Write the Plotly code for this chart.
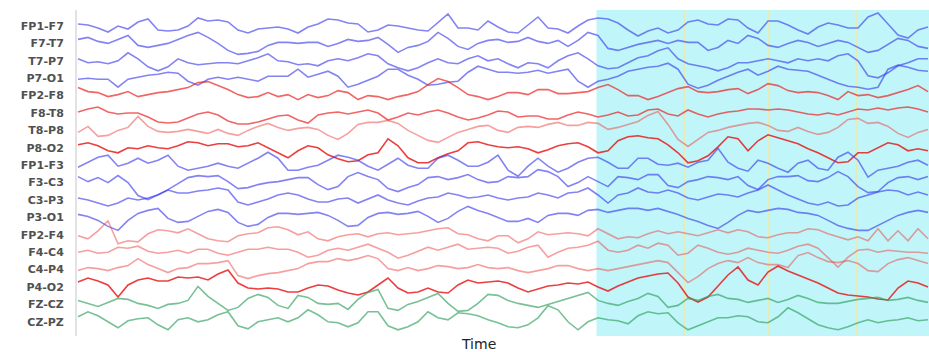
import numpy as np
import plotly.graph_objects as go

# ---------------- data (amplitudes, arbitrary units, positive = up) ----------------
channels = ["FP1-F7", "F7-T7", "T7-P7", "P7-O1",
            "FP2-F8", "F8-T8", "T8-P8", "P8-O2",
            "FP1-F3", "F3-C3", "C3-P3", "P3-O1",
            "FP2-F4", "F4-C4", "C4-P4", "P4-O2",
            "FZ-CZ", "CZ-PZ"]

fp1_f7 = [2,1,-2,-6,0,-3,4,7,-4,-5,-4,0,8,5,6,4,-4,-7,-3,-2,-1,-3,-7,-1,2,7,6,3,2,-6,
          -4,1,0,-2,-4,-5,4,12,-2,-2,-4,5,-1,-6,-7,1,9,-2,-3,-7,0,6,8,7,3,-4,-10,-5,-2,-7,
          -4,4,6,2,1,7,6,-2,-7,5,5,1,-4,-8,-1,3,1,-2,-2,9,13,2,-9,-12,-4,-1]
f7_t7 = [4,6,2,0,4,8,-2,-4,-2,0,4,8,11,6,0,-7,-11,-10,-8,-2,1,1,0,1,1,-3,0,4,2,3,
         6,-1,-9,-4,-2,2,11,5,-3,-6,0,3,4,1,2,6,2,0,3,-3,3,11,8,-5,-7,-4,-1,1,3,0,
         3,1,1,-7,-4,3,0,8,5,-2,-4,0,3,1,-3,0,3,1,-4,-9,-7,-1,5,3,-3,-5]
t7_p7 = [2,-2,-1,-3,0,8,2,-6,-10,-6,2,-2,-4,-3,-2,-2,-3,0,3,7,0,-1,-4,-3,-5,0,2,0,3,7,
         5,-3,-7,-10,-7,-2,2,-2,-3,2,5,0,2,-3,-7,-2,-3,-7,0,5,8,2,-5,-8,-7,-2,3,5,10,13,
         2,-3,-5,-7,-10,-7,-2,-2,0,2,0,-2,2,0,2,0,5,7,0,-15,-17,-12,-5,-2,2,2]
p7_o1 = [-1,0,-1,-1,-9,-1,1,3,4,6,5,-3,-7,-1,1,-1,1,-1,-3,2,2,2,9,1,4,7,2,-9,-6,-2,
         2,9,9,3,-1,-7,-6,-4,-3,6,12,9,6,6,5,6,8,5,7,9,-3,-9,-3,-1,2,7,9,11,12,15,
         9,-6,-10,-7,-2,2,6,9,3,7,12,9,8,7,3,-1,-5,-8,-9,-11,-9,9,13,11,8,7]
fp2_f8 = [8,4,3,-1,1,4,-1,1,3,4,6,8,13,14,10,6,1,-2,-1,3,-1,1,-4,1,-2,0,5,3,-4,0,
          -1,-4,-1,1,4,11,17,14,8,1,-1,-4,-1,3,3,1,6,6,2,2,3,4,8,11,6,0,0,-4,-1,3,
          7,9,4,3,4,6,7,2,6,12,10,5,3,4,3,0,-4,4,0,1,-2,0,3,6,10,4]
f8_t8 = [1,4,6,1,-1,0,0,-4,-9,-10,-9,-5,-1,1,-2,-8,-11,-11,-9,-6,-3,-2,-7,-10,-2,0,1,-1,1,3,
         0,-7,-4,0,-2,1,3,0,-4,-7,-5,-2,2,1,-4,-3,-3,-6,-6,-2,1,-1,-4,-2,1,-3,-2,3,4,-1,
         -3,3,-1,-4,-1,1,2,4,4,3,4,3,1,-1,-2,0,-2,1,4,3,5,3,5,6,4,1]
t8_p8 = [-2,4,-6,-5,0,3,14,4,-1,-2,-1,1,-1,-3,1,-3,-5,0,4,7,3,0,2,3,1,-5,-9,-3,6,8,
         8,10,7,0,-5,-10,-12,-7,-2,1,4,5,0,-2,3,4,3,6,8,5,5,8,7,1,3,6,9,15,19,6,
         -9,-16,-9,-2,0,3,5,7,8,5,0,-1,3,-1,-4,-2,3,11,12,7,8,4,-3,-7,-2,1]
p8_o2 = [3,5,2,-3,-5,0,-1,2,0,-1,2,6,5,2,4,4,1,2,5,0,-5,-10,-3,2,0,-7,-11,-14,-13,-7,
         -5,9,2,-10,-15,-15,-10,-6,-3,5,6,3,1,0,1,-1,-5,-2,2,4,5,1,-5,-3,7,11,12,10,9,3,
         -5,-15,-13,-8,1,11,9,-3,7,13,10,7,4,-1,-5,-10,-15,-14,-5,-5,0,5,3,-3,-1,-3]
fp1_f3 = [-2,3,8,10,-1,2,7,2,5,10,-1,-5,-3,-1,2,-1,-3,2,7,13,7,-5,-5,-2,0,5,10,8,5,-1,
          -5,1,7,0,-3,-3,7,10,5,-1,-1,3,10,-5,-11,-1,7,-1,-7,-3,3,7,8,3,-3,-3,7,7,1,0,
          2,-2,3,5,17,3,-3,-6,5,2,-3,-7,2,5,-3,-5,8,13,5,-12,-5,-3,-1,3,5,0]
f3_c3 = [6,1,5,0,7,0,-13,-17,-12,-7,-1,5,7,6,7,1,-6,-5,-2,0,1,3,5,5,-2,-7,-4,6,10,6,
         3,-6,-9,-5,-2,5,6,3,5,8,3,0,1,6,5,6,13,11,6,-4,0,6,1,-4,6,5,3,8,8,-3,
         -5,1,3,6,5,3,6,-3,-7,3,6,6,7,2,1,5,11,6,-4,-10,-9,0,5,6,3,6]
c3_p3 = [2,0,-3,-6,-3,2,0,2,5,10,7,7,9,10,12,10,-2,-5,-2,1,5,7,5,1,-2,-2,1,2,-3,1,
         5,0,-3,-5,-1,2,3,7,5,2,3,5,2,0,2,3,7,5,2,7,8,12,5,-3,5,7,12,8,7,10,
         7,2,0,3,6,5,3,7,10,15,10,5,1,-3,-5,-2,-6,-5,2,5,8,10,9,5,8,5]
p3_o1 = [3,1,-3,-9,-13,-3,4,7,9,-1,-5,-4,1,6,8,5,-5,-9,-7,0,4,4,3,4,5,2,-3,-9,-8,0,
         4,5,3,4,6,1,-5,-1,6,11,7,4,0,-4,-4,-1,-5,2,4,4,2,7,8,5,7,9,9,7,9,6,
         3,-1,-4,-8,-11,-5,2,7,5,7,9,8,5,4,2,-3,-8,-11,-13,-13,-8,-3,2,5,7,5]
fp2_f4 = [-1,-4,4,14,-9,-6,-7,1,5,4,2,6,1,-4,-6,-7,-1,1,2,7,8,5,0,3,-4,-6,-2,0,1,-2,
          1,2,0,1,2,4,6,7,1,0,-4,-6,-1,-1,-8,-4,3,0,1,2,1,-1,6,1,-4,-2,-3,1,4,1,
          3,1,-1,2,5,2,5,3,-2,-3,0,2,2,6,5,1,-2,-5,-2,-6,6,-6,4,-6,6,-4]
f4_c4 = [0,2,-1,0,5,4,6,1,-1,0,2,-1,3,3,-1,-3,0,3,3,5,3,3,0,-5,-3,2,4,2,5,8,
         4,0,-6,-3,1,5,2,5,8,3,4,5,4,-1,1,5,7,-5,0,4,5,7,11,2,0,2,7,4,9,7,
         -3,-1,7,4,0,-2,0,4,2,0,-1,2,6,8,4,-5,-15,-5,2,3,0,2,1,0,0,-1]
c4_p4 = [-1,2,1,-1,2,4,11,5,1,-3,1,2,6,6,7,9,-6,-9,-6,-4,-3,-1,1,6,8,8,11,9,11,14,
         11,1,-1,2,-1,1,4,3,1,2,5,2,1,2,-1,-3,-1,1,4,4,1,-1,1,-1,1,3,5,7,9,7,
         -3,-13,-7,1,6,9,7,12,7,5,5,2,14,17,12,8,7,9,6,-1,-2,6,10,12,9,6]
p4_o2 = [5,9,6,2,-10,2,7,9,6,6,10,9,10,7,13,17,4,-1,-2,-1,-2,-5,-5,-1,2,1,-3,-6,-8,-5,
         2,9,-1,-6,-5,-1,-5,-6,2,7,4,5,6,4,-1,-5,-2,1,2,4,3,5,0,-4,1,5,9,11,13,14,
         4,-10,-15,-10,1,12,20,7,2,15,21,16,12,8,4,-1,-6,-8,-9,-10,-12,-13,-1,6,4,0]
fz_cz = [4,1,-2,2,6,5,1,-1,-4,0,1,4,18,8,1,-6,-3,6,10,7,-1,-4,9,7,1,0,1,-5,5,12,
         15,-4,-6,0,3,7,11,1,-7,-6,1,10,9,4,1,-1,-3,0,3,6,9,12,4,1,-1,3,6,11,8,-3,
         -1,6,4,8,10,6,5,2,4,6,2,5,9,6,2,1,1,3,5,6,7,4,5,7,4,2]
cz_pz = [5,10,6,0,-6,1,3,4,-3,-8,2,4,0,2,7,10,-4,-7,0,2,4,0,4,12,7,0,-1,-5,-1,10,
         10,-4,-8,-5,0,10,4,2,9,8,6,2,-1,-5,-6,-3,4,16,12,0,-8,0,4,2,1,-2,6,10,8,9,
         -1,-8,-4,0,4,4,6,5,0,-1,5,14,9,3,-3,-6,-8,-5,-1,2,-1,1,2,4,1,2]

signals = [fp1_f7, f7_t7, t7_p7, p7_o1,
           fp2_f8, f8_t8, t8_p8, p8_o2,
           fp1_f3, f3_c3, c3_p3, p3_o1,
           fp2_f4, f4_c4, c4_p4, p4_o2,
           fz_cz, cz_pz]

duration_s = 10.0
seizure_onset_s = 6.1
marker_times_s = [7.13, 8.13, 9.16]
channel_gain = 17.4          # amplitude units per channel spacing

# ---------------- styles ----------------
BLUE = "rgba(55,55,235,0.62)"
RED_STRONG = "rgba(232,20,20,0.82)"
RED_MED = "rgba(235,35,35,0.70)"
RED_LIGHT = "rgba(238,70,70,0.52)"
GREEN = "rgba(50,160,95,0.66)"
colors = [BLUE, BLUE, BLUE, BLUE,
          RED_MED, RED_MED, RED_LIGHT, RED_STRONG,
          BLUE, BLUE, BLUE, BLUE,
          RED_LIGHT, RED_LIGHT, RED_LIGHT, RED_STRONG,
          GREEN, GREEN]

fig = go.Figure()
for i, (name, sig, col) in enumerate(zip(channels, signals, colors)):
    t = np.linspace(0, duration_s, len(sig))
    y = i - np.asarray(sig, dtype=float) / channel_gain
    fig.add_trace(go.Scatter(x=t, y=y, mode="lines", name=name,
                             line=dict(color=col, width=1.6),
                             hoverinfo="skip", showlegend=False))

pad = duration_s / 850.0
x_end = duration_s + pad

fig.add_shape(type="rect", xref="x", yref="paper",
              x0=seizure_onset_s, x1=x_end, y0=0, y1=1,
              fillcolor="rgb(192,246,249)", line=dict(width=0), layer="below")
for mt in marker_times_s:
    fig.add_shape(type="line", xref="x", yref="paper", x0=mt, x1=mt, y0=0, y1=1,
                  line=dict(color="rgba(232,235,180,0.95)", width=2), layer="below")

fig.add_annotation(text="Time", xref="paper", yref="paper",
                   x=(478 - 77) / 852, y=-0.026, xanchor="center", yanchor="middle",
                   showarrow=False, font=dict(family="DejaVu Sans", size=14, color="#222"))

fig.update_layout(
    width=929, height=352,
    margin=dict(l=77, r=0, t=10, b=16),
    paper_bgcolor="white", plot_bgcolor="white",
    xaxis=dict(range=[-pad, x_end], showgrid=False, zeroline=False,
               showticklabels=False, ticks="", showline=False),
    yaxis=dict(range=[17 + 14.2 / channel_gain, -16 / channel_gain],
               tickvals=list(range(len(channels))), ticktext=channels,
               showgrid=False, zeroline=False, ticks="",
               ticklabelstandoff=9,
               showline=True, linecolor="#e2e2e2", linewidth=2,
               tickfont=dict(family="DejaVu Sans", size=11, color="#505050", weight="bold")),
)

post = ("document.documentElement.style.margin='0';"
        "document.body.style.margin='0';document.body.style.padding='0';"
        "document.body.style.overflow='hidden';"
        "var gd=document.getElementById('{plot_id}');"
        "Plotly.relayout(gd,{width:929,height:352});")
fig.write_html("out.html", config={"responsive": False, "displayModeBar": False},
               post_script=post)
